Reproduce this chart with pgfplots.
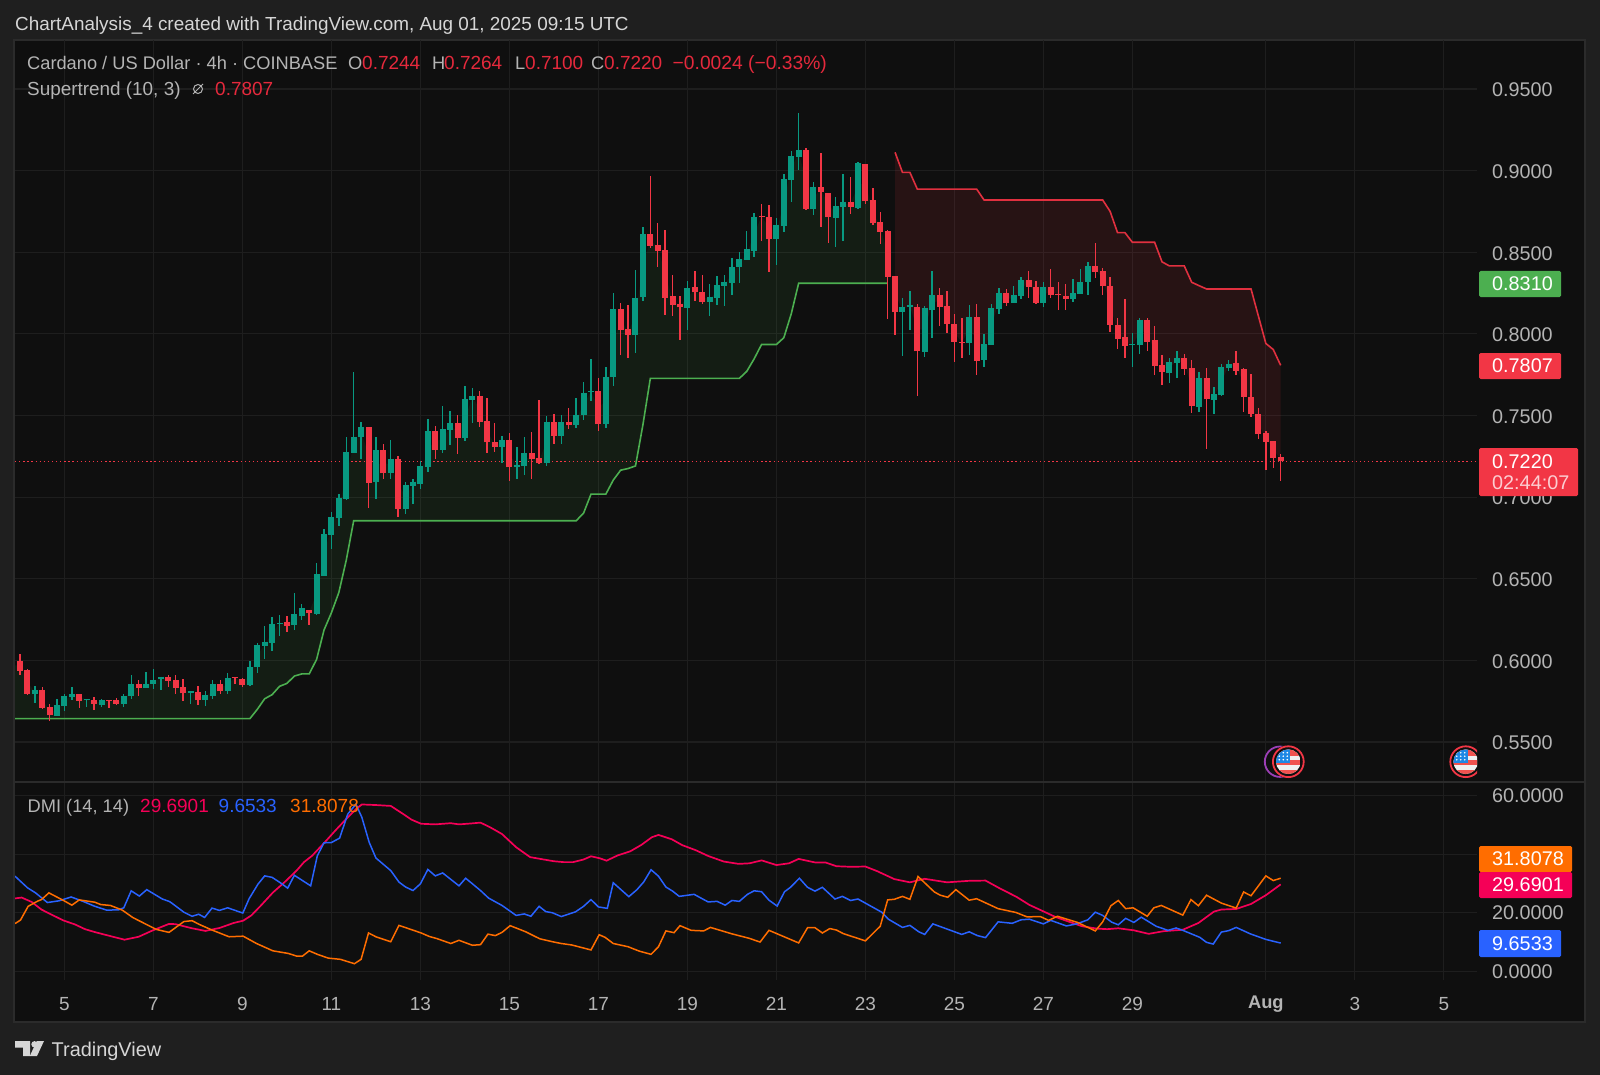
\documentclass[border=0pt]{standalone}
\usepackage{fontspec}
\setmainfont{Liberation Sans}
\usepackage{pgfplots}
\pgfplotsset{compat=1.18}
\usepackage{pgfplotstable}
\definecolor{outer}{HTML}{1F1F1F}
\definecolor{panel}{HTML}{0F0F0F}
\definecolor{gridc}{HTML}{1E1E1E}
\definecolor{borderc}{HTML}{2B2B2B}
\definecolor{cgreen}{HTML}{089981}
\definecolor{cred}{HTML}{F23645}
\definecolor{stgreen}{HTML}{4CAF50}
\definecolor{stred}{HTML}{E0303F}
\definecolor{dpink}{HTML}{F50057}
\definecolor{dblue}{HTML}{2962FF}
\definecolor{dorange}{HTML}{FF6D00}
\definecolor{txt}{HTML}{B4B4B4}
\definecolor{ttl}{HTML}{D6D6D6}
\definecolor{lred}{HTML}{E5293C}
\definecolor{flagred}{HTML}{F0524F}
\definecolor{flagblue}{HTML}{1E88E5}
\definecolor{flagwhite}{HTML}{F0F0F0}
\definecolor{evpurple}{HTML}{9C3FB5}
\newcommand\fs[1]{\fontsize{#1}{#1}\selectfont}
\pgfplotstableread{
i o h l c
0 .5996 .6037 .5910 .5937
1 .5941 .5945 .5790 .5794
2 .5794 .5843 .5741 .5818
3 .5818 .5835 .5700 .5708
4 .5712 .5731 .5631 .5663
5 .5659 .5763 .5659 .5727
6 .5723 .5792 .5690 .5784
7 .5774 .5835 .5757 .5794
8 .5792 .5796 .5710 .5753
9 .5757 .5763 .5716 .5763
10 .5759 .5776 .5696 .5735
11 .5729 .5765 .5716 .5757
12 .5759 .5759 .5710 .5755
13 .5757 .5767 .5727 .5735
14 .5735 .5796 .5716 .5780
15 .5784 .5908 .5765 .5855
16 .5855 .5878 .5784 .5831
17 .5831 .5931 .5831 .5857
18 .5857 .5949 .5823 .5882
19 .5884 .5900 .5818 .5900
20 .5900 .5908 .5839 .5874
21 .5878 .5908 .5794 .5831
22 .5835 .5884 .5751 .5798
23 .5802 .5810 .5735 .5810
24 .5806 .5841 .5727 .5757
25 .5757 .5810 .5723 .5786
26 .5782 .5878 .5765 .5855
27 .5855 .5882 .5794 .5810
28 .5810 .5920 .5796 .5892
29 .5900 .5900 .5853 .5892
30 .5886 .5890 .5839 .5849
31 .5849 .5996 .5845 .5959
32 .5959 .6108 .5920 .6094
33 .6088 .6210 .6010 .6110
34 .6106 .6265 .6057 .6223
35 .6223 .6276 .6147 .6231
36 .6235 .6269 .6176 .6212
37 .6214 .6410 .6184 .6282
38 .6274 .6343 .6247 .6318
39 .6306 .6306 .6214 .6288
40 .6284 .6598 .6280 .6529
41 .6518 .6802 .6516 .6773
42 .6767 .6910 .6680 .6877
43 .6873 .7022 .6826 .6994
44 .6988 .7371 .6984 .7277
45 .7273 .7767 .7273 .7369
46 .7367 .7459 .7231 .7432
47 .7432 .7432 .6931 .7086
48 .7090 .7367 .6988 .7288
49 .7288 .7328 .7114 .7145
50 .7145 .7347 .7114 .7233
51 .7233 .7249 .6880 .6929
52 .6929 .7092 .6898 .7073
53 .7067 .7108 .6955 .7090
54 .7082 .7224 .7049 .7190
55 .7186 .7481 .7155 .7402
56 .7402 .7435 .7233 .7288
57 .7288 .7561 .7271 .7416
58 .7414 .7526 .7318 .7451
59 .7451 .7500 .7265 .7363
60 .7363 .7683 .7343 .7602
61 .7596 .7671 .7455 .7622
62 .7622 .7647 .7430 .7461
63 .7469 .7608 .7273 .7335
64 .7339 .7455 .7279 .7310
65 .7310 .7373 .7212 .7349
66 .7347 .7394 .7100 .7182
67 .7182 .7308 .7114 .7194
68 .7190 .7369 .7137 .7269
69 .7269 .7396 .7112 .7233
70 .7237 .7594 .7204 .7208
71 .7212 .7496 .7190 .7463
72 .7463 .7508 .7326 .7375
73 .7375 .7500 .7326 .7463
74 .7463 .7547 .7416 .7441
75 .7441 .7610 .7426 .7504
76 .7502 .7708 .7475 .7637
77 .7641 .7845 .7590 .7649
78 .7649 .7729 .7402 .7445
79 .7445 .7796 .7425 .7737
80 .7733 .8253 .7682 .8153
81 .8153 .8188 .7869 .8024
82 .8029 .8175 .7855 .7992
83 .7992 .8392 .7884 .8220
84 .8226 .8653 .8200 .8610
85 .8610 .8965 .8526 .8540
86 .8546 .8677 .8412 .8510
87 .8514 .8636 .8116 .8222
88 .8230 .8361 .8108 .8179
89 .8181 .8234 .7963 .8163
90 .8161 .8324 .8026 .8280
91 .8284 .8385 .8202 .8257
92 .8259 .8363 .8183 .8196
93 .8196 .8304 .8112 .8226
94 .8222 .8355 .8175 .8300
95 .8296 .8359 .8171 .8316
96 .8314 .8463 .8238 .8410
97 .8410 .8500 .8312 .8459
98 .8455 .8631 .8455 .8518
99 .8510 .8740 .8473 .8716
100 .8722 .8793 .8567 .8714
101 .8716 .8789 .8379 .8583
102 .8583 .8712 .8422 .8665
103 .8663 .8977 .8626 .8946
104 .8942 .9120 .8806 .9089
105 .9085 .9352 .9002 .9126
106 .9126 .9136 .8761 .8765
107 .8767 .8928 .8730 .8898
108 .8902 .9105 .8655 .8869
109 .8865 .8865 .8559 .8714
110 .8708 .8838 .8530 .8781
111 .8779 .8977 .8571 .8810
112 .8810 .8963 .8734 .8777
113 .8771 .9053 .8765 .9044
114 .9042 .9042 .8798 .8812
115 .8818 .8891 .8669 .8677
116 .8685 .8744 .8553 .8624
117 .8630 .8634 .8089 .8349
118 .8353 .8353 .7996 .8134
119 .8134 .8218 .7865 .8167
120 .8167 .8261 .8022 .8177
121 .8165 .8184 .7617 .7892
122 .7888 .8172 .7859 .8159
123 .8149 .8384 .7972 .8235
124 .8239 .8280 .8049 .8165
125 .8172 .8261 .8008 .8059
126 .8061 .8121 .7829 .7951
127 .7953 .8096 .7855 .7947
128 .7947 .8176 .7870 .8104
129 .8104 .8182 .7745 .7835
130 .7837 .7998 .7794 .7937
131 .7931 .8180 .7931 .8159
132 .8153 .8278 .8119 .8249
133 .8249 .8274 .8172 .8188
134 .8186 .8294 .8186 .8239
135 .8233 .8349 .8212 .8329
136 .8329 .8384 .8218 .8286
137 .8290 .8325 .8186 .8192
138 .8192 .8318 .8167 .8286
139 .8286 .8396 .8218 .8237
140 .8245 .8318 .8145 .8239
141 .8233 .8304 .8145 .8214
142 .8216 .8335 .8194 .8249
143 .8245 .8396 .8245 .8318
144 .8316 .8443 .8241 .8416
145 .8416 .8555 .8341 .8380
146 .8384 .8404 .8235 .8292
147 .8294 .8347 .8014 .8055
148 .8057 .8096 .7910 .7970
149 .7980 .8216 .7853 .7925
150 .7931 .8004 .7798 .7937
151 .7929 .8098 .7878 .8084
152 .8084 .8098 .7894 .7953
153 .7961 .8049 .7749 .7806
154 .7810 .7870 .7686 .7766
155 .7762 .7851 .7700 .7825
156 .7821 .7894 .7731 .7851
157 .7851 .7874 .7745 .7786
158 .7788 .7837 .7517 .7557
159 .7555 .7769 .7519 .7731
160 .7731 .7788 .7294 .7598
161 .7596 .7672 .7512 .7631
162 .7625 .7814 .7621 .7794
163 .7790 .7837 .7774 .7816
164 .7823 .7892 .7747 .7774
165 .7784 .7790 .7521 .7614
166 .7612 .7753 .7492 .7510
167 .7510 .7547 .7353 .7384
168 .7390 .7404 .7166 .7339
169 .7345 .7345 .7178 .7239
170 .7244 .7264 .7100 .7220
}\candles
\pgfplotstableread{
i st
-.67 .5643
31 .5643
32 .5700
33 .5765
34 .5790
35 .5841
36 .5859
37 .5904
38 .5917
39 .5917
40 .6006
41 .6186
42 .6292
43 .6416
44 .6614
45 .6855
75 .6855
76 .6902
77 .7018
79 .7018
80 .7104
81 .7165
82 .7175
83 .7191
84 .7443
85 .7727
97 .7727
98 .7770
99 .7847
100 .7935
102 .7935
103 .7976
104 .8122
105 .8310
117 .8310
}\stup
\pgfplotstableread{
i st
118 .9112
119 .8989
120 .8989
121 .8887
129 .8887
130 .8820
146 .8820
147 .8750
148 .8620
149 .8620
150 .8561
153 .8561
154 .8441
155 .8416
157 .8416
158 .8316
159 .8295
160 .8275
166 .8275
167 .8108
168 .7941
169 .7904
170 .7807
}\stdown
\pgfplotstableread{
i st
-.67 .5970
0 .5967
1 .5868
2 .5806
3 .5763
4 .5688
5 .5693
6 .5754
7 .5784
8 .5773
9 .5760
10 .5747
11 .5743
12 .5757
13 .5746
14 .5758
15 .5820
16 .5843
17 .5844
18 .5870
19 .5892
20 .5887
21 .5855
22 .5817
23 .5806
24 .5782
25 .5772
26 .5819
27 .5833
28 .5851
29 .5896
30 .5868
31 .5904
32 .6027
33 .6099
34 .6165
35 .6227
36 .6224
37 .6248
38 .6296
39 .6297
40 .6407
41 .6646
42 .6822
43 .6934
44 .7133
45 .7321
46 .7400
47 .7259
48 .7189
49 .7217
50 .7189
51 .7081
52 .7001
53 .7079
54 .7136
55 .7294
56 .7345
57 .7352
58 .7433
59 .7407
60 .7483
61 .7609
62 .7542
63 .7402
64 .7325
65 .7330
66 .7265
67 .7188
68 .7230
69 .7251
70 .7223
71 .7338
72 .7419
73 .7419
74 .7452
75 .7473
76 .7570
77 .7645
78 .7547
79 .7591
80 .7943
81 .8089
82 .8011
83 .8106
84 .8418
85 .8575
86 .8528
87 .8368
88 .8205
89 .8172
90 .8221
91 .8271
92 .8228
93 .8211
94 .8261
95 .8306
96 .8362
97 .8435
98 .8487
99 .8613
100 .8718
101 .8650
102 .8624
103 .8805
104 .9016
105 .9106
106 .8946
107 .8833
108 .8886
109 .8790
110 .8745
111 .8795
112 .8794
113 .8908
114 .8927
115 .8748
116 .8655
117 .8490
117 .8310
105 .8310
104 .8122
103 .7976
102 .7935
100 .7935
99 .7847
98 .7770
97 .7727
85 .7727
84 .7443
83 .7191
82 .7175
81 .7165
80 .7104
79 .7018
77 .7018
76 .6902
75 .6855
45 .6855
44 .6614
43 .6416
42 .6292
41 .6186
40 .6006
39 .5917
38 .5917
37 .5904
36 .5859
35 .5841
34 .5790
33 .5765
32 .5700
31 .5643
-.67 .5643
}\fillup
\pgfplotstableread{
i st
118 .8244
119 .8151
120 .8172
121 .8029
122 .8024
123 .8192
124 .8202
125 .8116
126 .8006
127 .7950
128 .8026
129 .7970
130 .7887
131 .8045
132 .8201
133 .8219
134 .8213
135 .8281
136 .8308
137 .8241
138 .8239
139 .8262
140 .8242
141 .8224
142 .8233
143 .8282
144 .8366
145 .8398
146 .8338
147 .8175
148 .8014
149 .7953
150 .7934
151 .8007
152 .8019
153 .7884
154 .7788
155 .7794
156 .7836
157 .7819
158 .7673
159 .7643
160 .7665
161 .7614
162 .7710
163 .7803
164 .7799
165 .7699
166 .7561
167 .7447
168 .7365
169 .7292
170 .7232
170 .7807
169 .7904
168 .7941
167 .8108
166 .8275
160 .8275
159 .8295
158 .8316
157 .8416
155 .8416
154 .8441
153 .8561
150 .8561
149 .8620
148 .8620
147 .8750
146 .8820
130 .8820
129 .8887
121 .8887
120 .8989
119 .8989
118 .9112
}\filldown
\pgfplotstableread{
i v
-.67 24.9
.23 25.2
1.57 23.7
2.9 21.1
4.23 19.4
5.83 17.4
7.43 16.0
8.77 14.4
10.1 13.4
11.7 12.35
14.1 10.8
16 11.8
17.83 13.9
20.1 16.2
21 16.1
23.2 14.7
25 13.8
26.9 14.8
28.8 16.5
30.1 17.3
31.2 19.1
32.5 22.5
34.1 26.9
35.7 30.5
37.3 34.4
38.3 37.3
39.4 39.5
41 43.8
42.6 48.3
44.2 52.6
45.3 55.4
46.1 57.0
48 56.8
50 56.5
51.7 53.7
52.8 51.8
54.1 50.4
56 50.2
58.1 50.6
59.2 50.2
60.8 50.5
62.1 50.8
63.4 49.2
65 46.9
66.9 42.4
68.8 39.0
70.4 38.3
72 37.6
73.3 37.3
74.6 37.3
76 38.2
77 39.3
78.2 38.6
79.1 37.8
80.6 39.6
82.3 41.0
83.8 43.2
85.2 45.8
86.1 46.6
87.9 45.1
89.3 43.1
91.1 41.4
92.8 39.4
94.9 37.5
96.9 36.7
98.4 36.9
100 37.9
102 36.3
103.7 36.9
105 38.4
107.2 37.2
108.6 37.2
110.1 35.9
112.1 35.7
114 35.8
115.6 34.2
117.9 31.5
120 30.4
122 31.6
125 30.4
127.9 30.9
130.2 31.0
132 28.5
134.4 25.4
136.1 22.7
137.9 20.6
139.6 18.6
141.4 17.0
143.2 15.4
145.2 14.6
146.6 14.4
148.1 14.7
150.2 14.0
152.2 12.8
154.2 13.7
156.8 14.2
158.9 16.5
161 20.4
162 21.1
164 21.3
166 23
168 26
170 29.69
}\dmipink
\pgfplotstableread{
i v
-.67 32.5
1.03 28.5
2.1 26.8
3.7 23.5
5.3 24.1
6.9 25.4
8.5 23.9
10.1 22.2
11.7 20.9
13.3 21
14 21.7
15 27.5
16.1 25.7
17.1 27.9
19.2 24.7
20.2 23.8
22.1 20.2
23.2 18.8
24.1 19.5
24.9 18.4
25.9 21.6
26.9 20.8
28 21.7
30.05 19.9
30.9 24.8
32.1 29.8
33 32.6
34 32.1
35.2 30.1
36.1 28.4
37 32.8
39.2 29.2
40.1 39.5
41 43.9
42 44
43.1 45.5
44.2 53.7
45.3 57.1
46.1 52.6
47.1 44
48 38.7
50 34.4
51.1 30.5
52 28.8
53 27.6
54 29.9
55 34.8
56 32.6
57 33.6
59.2 29.2
60.1 31.8
62.1 27.6
63.2 25
65 22.5
66.9 19.1
68 19.6
68.9 18.8
70 22.2
70.9 20.4
71.8 20
73 18.7
74.9 20.3
76 22.2
77 24.5
78 22
79.2 21.5
80 30.25
82.1 25.5
83.2 27.9
84.1 30.5
85.1 34.7
86.1 32.5
87.1 28.8
88 27.4
88.9 25.6
90.9 26.3
92.8 23.7
94 23.9
95.1 22.6
96 24.2
97 23.9
98.1 26.3
99 27.5
100 27.2
101 24.3
102.1 22.3
103.1 27.2
103.9 28.7
105.1 31.8
106.2 28.7
107.2 27.4
108.2 28.7
109.9 24.7
110.9 25.6
112 24.2
113 24.7
116.2 20.2
117.1 17.8
119 15
120 15.7
121.2 13.5
122 12.6
123.1 16.2
127 12.6
128 13.5
129.1 12.2
130.2 11.5
131.9 16.9
133.8 16.4
135 17.6
136.1 17.8
138 16.2
139 17.4
141.1 15.5
142.5 16.2
144 17.6
145 20.2
146 19.1
147.2 16.8
148.1 15.9
149.1 18.1
150.2 16.7
151.2 18.5
153.2 15.4
154.8 14
155.9 14.8
156.8 14
159.1 11.6
160 9.9
160.9 9.3
162 13.4
163 13.9
164 15
165.9 12.8
168 10.9
170 9.65
}\dmiblue
\pgfplotstableread{
i v
-.67 16.3
.07 17.5
1.1 22.2
2.4 24
2.9 24.5
3.9 26.8
5.8 24.3
7 22.6
8 24.4
10.1 23.6
10.9 22.8
12.2 22.5
13.8 20.9
15.2 18.4
16.2 17.1
18.4 14.3
20.1 13.3
22.1 17
23.2 17.3
24.2 16
25.8 14.2
28.2 11.8
30.1 12
31.9 9.5
34.1 7
36.2 6.1
37.3 5.2
38.1 5.2
39 7
40.2 5.7
41.6 4.5
43.2 4.1
45.1 2.6
46 4.1
47 13.1
48 11.8
50 10.1
51.1 15.7
54.1 13.1
55.2 11.9
56.2 11.2
58.1 9.5
59.2 10.6
61 8.9
62.1 9.1
63.1 12.7
64.1 12.2
65 13.3
66.1 15.6
68.2 13.5
70.1 11.1
72 10
73 9.5
74.4 9.0
77 7.3
78.1 12.5
78.9 11.6
80 9.5
82 8.4
83.5 6.9
85.1 5.8
86.1 8.4
87.1 13.8
88.2 13.2
89 15.6
90.5 14
92.2 13.8
93.1 15
96 12.8
98.3 11.3
99.8 10
101 14
105 9.7
106.2 14.9
107.2 14.9
108.2 13.1
109.2 14.6
110.1 14.1
111 12.9
114 10.4
116 15.4
117 24.4
117.9 24.6
119 25.6
120 24.6
121.1 32.4
123.3 27.1
124.1 26
125.1 25.3
126.2 27.9
128 24.3
129 24.8
131.9 21.4
134.3 20.1
135.8 18.6
137.6 18.7
138.7 17.4
139.9 18.8
142.6 16.7
145 13.8
146 16.9
147.1 22.4
148.1 24.2
149.1 21.4
150.1 21.7
152 18.8
152.9 21.7
153.9 22.5
156.8 19.2
157.9 24.5
158.9 22.4
160 26
162 23.3
164 21.6
165 27.1
166 25.8
168 32.6
169 31
170 31.81
}\dmiorange
\newcommand\usflag[2]{%
 \begin{scope}[shift={(#1,#2)}]
 \fill[panel] (0,0) circle (16.5);
 \draw[cred,line width=1.8pt] (0,0) circle (15.4);
 \begin{scope}
 \clip (0,0) circle (12.3);
 \fill[flagwhite] (-13,-13) rectangle (13,13);
 \fill[flagred] (-13,13) rectangle (13,8);
 \fill[flagred] (-13,3) rectangle (13,-1.5);
 \fill[flagred] (-13,-6) rectangle (13,-13);
 \fill[flagblue] (-13,-13) rectangle (2,1.5);
 \foreach \a in {-9,-5,-1}{\foreach \b in {-9,-5.5,-2}{\fill[white] (\a,\b) circle (.9);}}
 \end{scope}
 \end{scope}}
\newcommand\vtag[6]{% x0,y0,x1,y1,color,text
 \fill[#5,rounded corners=1.5pt] (#1,#2) rectangle (#3,#4);
 \node[anchor=west,inner sep=0pt,text=white,font=\fs{19.8}] at (1492,{(#2+#4)/2}) {#6};}
\newcommand\lb[5]{\node[anchor=base west,inner sep=0pt,text=#4,font=\fs{#3}] at (#1,#2) {#5};}
\begin{document}
\begin{tikzpicture}
\useasboundingbox (0,-1075pt) rectangle (1600pt,0);
\begin{scope}[x=1pt,y=-1pt]
\fill[outer] (0,0) rectangle (1600,1075);
\fill[panel] (14,40) rectangle (1585,1022);
\draw[borderc,line width=1.4pt] (14,40) rectangle (1585,1022);
\end{scope}
\begin{axis}[
 at={(15pt,-782pt)},anchor=south west,scale only axis,width=1462pt,height=742pt,
 xmin=-.67,xmax=196.47,ymin=.5255,ymax=.98,
 xtick={6,18,30,42,54,66,78,90,102,114,126,138,150,168,180,192},xticklabels={},
 ytick={.55,.6,.65,.7,.75,.8,.85,.9,.95},
 yticklabels={0.5500,0.6000,0.6500,0.7000,0.7500,0.8000,0.8500,0.9000,0.9500},
 yticklabel pos=right,
 y tick label style={anchor=west,inner sep=0pt,xshift=15pt,yshift=-1pt,text=txt,font=\fs{19.8}},
 grid=major,grid style={line width=1.2pt,gridc},
 axis line style={draw=none},major tick length=0pt,
 every axis plot/.append style={mark=none},
]
\addplot[fill=stgreen,fill opacity=.09,draw=none] table[x=i,y=st] {\fillup} -- cycle;
\addplot[fill=cred,fill opacity=.105,draw=none] table[x=i,y=st] {\filldown} -- cycle;
\addplot[stgreen,line width=1.6pt] table[x=i,y=st] {\stup};
\addplot[stred,line width=1.6pt] table[x=i,y=st] {\stdown};
\addplot[cred,line width=1.1pt,dash pattern=on 1.3pt off 2.8pt] coordinates {(-.67,.722) (196.47,.722)};
\addplot[draw=none,restrict expr to domain={\thisrow{c}-\thisrow{o}}{0:1},
 error bars/.cd,y dir=both,y explicit,error mark=none,error bar style={draw=cgreen,line width=1.4pt}]
 table[x=i,y=c,y error plus expr=\thisrow{h}-\thisrow{c},y error minus expr=\thisrow{c}-\thisrow{l}] {\candles};
\addplot[draw=none,restrict expr to domain={\thisrow{c}-\thisrow{o}}{0:1},
 error bars/.cd,y dir=minus,y explicit,error mark=none,error bar style={draw=cgreen,line width=6pt}]
 table[x=i,y=c,y error minus expr=\thisrow{c}-\thisrow{o}] {\candles};
\addplot[draw=none,restrict expr to domain={\thisrow{o}-\thisrow{c}}{0:1},
 error bars/.cd,y dir=both,y explicit,error mark=none,error bar style={draw=cred,line width=1.4pt}]
 table[x=i,y=c,y error plus expr=\thisrow{h}-\thisrow{c},y error minus expr=\thisrow{c}-\thisrow{l}] {\candles};
\addplot[draw=none,restrict expr to domain={\thisrow{o}-\thisrow{c}}{0:1},
 error bars/.cd,y dir=plus,y explicit,error mark=none,error bar style={draw=cred,line width=6pt}]
 table[x=i,y=c,y error plus expr=\thisrow{o}-\thisrow{c}] {\candles};
\end{axis}
\begin{axis}[
 at={(15pt,-980pt)},anchor=south west,scale only axis,width=1462pt,height=198pt,
 xmin=-.67,xmax=196.47,ymin=-2.97,ymax=64.67,
 xtick={6,18,30,42,54,66,78,90,102,114,126,138,150,168,180,192},
 xticklabels={5,7,9,11,13,15,17,19,21,23,25,27,29,{\fs{18.3}\textbf{Aug}},3,5},
 x tick label style={anchor=center,inner sep=0pt,yshift=-24pt,text=txt,font=\fs{19}},
 ytick={0,20,40,60},yticklabels={0.0000,20.0000,40.0000,60.0000},
 yticklabel pos=right,
 y tick label style={anchor=west,inner sep=0pt,xshift=15pt,text=txt,font=\fs{19.8}},
 grid=major,grid style={line width=1.2pt,gridc},
 axis line style={draw=none},major tick length=0pt,
 every axis plot/.append style={mark=none},
]
\addplot[dpink,line width=1.7pt] table[x=i,y=v] {\dmipink};
\addplot[dblue,line width=1.5pt] table[x=i,y=v] {\dmiblue};
\addplot[dorange,line width=1.5pt] table[x=i,y=v] {\dmiorange};
\end{axis}
\begin{scope}[x=1pt,y=-1pt]
\draw[borderc,line width=1.5pt] (14,782) -- (1585,782);
\lb{15}{30.5}{18.9}{ttl}{ChartAnalysis\_4 created with TradingView.com, Aug 01, 2025 09:15 UTC}
\lb{27}{70}{18.25}{txt}{Cardano / US Dollar · 4h · COINBASE}
\lb{348}{70}{18.25}{txt}{O}
\lb{362}{70}{19}{lred}{0.7244}
\lb{432}{70}{18.25}{txt}{H}
\lb{444}{70}{19}{lred}{0.7264}
\lb{515}{70}{18.25}{txt}{L}
\lb{525}{70}{19}{lred}{0.7100}
\lb{591}{70}{18.25}{txt}{C}
\lb{604}{70}{19}{lred}{0.7220}
\lb{672.5}{70}{19.25}{lred}{−0.0024 (−0.33\%)}
\lb{27}{95.5}{18.9}{txt}{Supertrend (10, 3)}
\draw[txt,line width=1pt] (198,89) circle (4.5) (193,94) -- (203,84);
\lb{215}{95.5}{19}{lred}{0.7807}
\lb{27.5}{812.5}{18.25}{txt}{DMI (14, 14)}
\lb{140}{812.5}{19}{dpink}{29.6901}
\lb{218.5}{812.5}{19}{dblue}{9.6533}
\lb{290}{812.5}{19}{dorange}{31.8078}
\vtag{1479}{271}{1561}{297}{stgreen}{0.8310}
\vtag{1479}{353}{1561}{379}{cred}{0.7807}
\fill[cred,rounded corners=1.5pt] (1479,448) rectangle (1578,496);
\node[anchor=west,inner sep=0pt,text=white,font=\fs{19.8}] at (1492,462) {0.7220};
\node[anchor=west,inner sep=0pt,text=white!75!cred,font=\fs{19.8}] at (1492,483) {02:44:07};
\vtag{1479}{846}{1572}{872}{dorange}{31.8078}
\vtag{1479}{872}{1572}{898}{dpink}{29.6901}
\vtag{1479}{930}{1561}{957}{dblue}{9.6533}
\draw[evpurple,line width=1.8pt] (1280,761.7) circle (15.2);
\usflag{1288.3}{761.7}
\begin{scope}
\clip (1440,740) rectangle (1477,781);
\usflag{1465.7}{761.7}
\end{scope}
\fill[ttl] (15,1041) -- (30,1041) -- (30,1056) -- (23,1056) -- (23,1047.5) -- (15,1047.5) -- cycle;
\fill[ttl] (34.5,1044.3) circle (3.2);
\fill[ttl] (44,1041) -- (37,1056) -- (29.8,1056) -- (36.8,1041) -- cycle;
\lb{51.5}{1056.7}{19.9}{ttl}{TradingView}
\end{scope}
\end{tikzpicture}
\end{document}
